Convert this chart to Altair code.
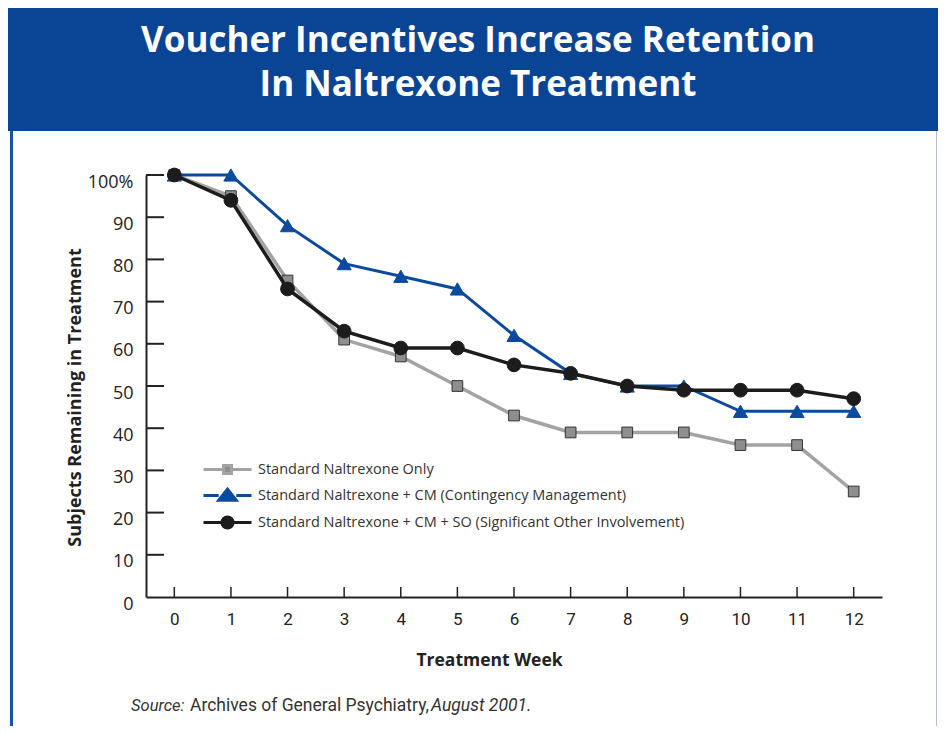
import altair as alt
import pandas as pd

# ---------------- data ----------------
weeks = list(range(13))
naltrexone_only = [100, 95, 75, 61, 57, 50, 43, 39, 39, 39, 36, 36, 25]
naltrexone_cm = [100, 100, 88, 79, 76, 73, 62, 53, 50, 50, 44, 44, 44]
naltrexone_cm_so = [100, 94, 73, 63, 59, 59, 55, 53, 50, 49, 49, 49, 47]
series_names = [
    "Standard Naltrexone Only",
    "Standard Naltrexone + CM (Contingency Management)",
    "Standard Naltrexone + CM + SO (Significant Other Involvement)",
]
y_ticks = [0, 10, 20, 30, 40, 50, 60, 70, 80, 90, 100]
x_ticks = weeks
title_lines = ["Voucher Incentives Increase Retention", "In Naltrexone Treatment"]
x_title = "Treatment Week"
y_title = "Subjects Remaining in Treatment"
source_parts = ["Source:", "Archives of General Psychiatry,", "August 2001."]

# ---------------- styles ----------------
W, H = 736, 422
BLUE = "#0a4595"
line_colors = ["#a3a3a3", "#0b4a9c", "#1c1c1c"]
line_widths = [3.5, 3, 3.5]
point_fill = ["#8e8e8e", "#0b4a9c", "#1c1c1c"]
point_stroke = ["#333333", "#0b4a9c", "#1c1c1c"]
point_shape = ["square", "triangle-up", "circle"]
point_size = [115, 200, 190]
legend_paths = [
    "M-3,0H-0.5M0.5,0H3M-0.5,-0.5H0.5V0.5H-0.5Z",
    "M-3,0H-1.1M1.1,0H3M0,-0.8L1.1,0.6L-1.1,0.6Z",
    "M-3,0H-0.7M0.7,0H3M0.7,0A0.7,0.7 0 1,1 -0.7,0A0.7,0.7 0 1,1 0.7,0Z",
]
NARROW = "Roboto, sans-serif"
SANS = "Open Sans, Lato, sans-serif"

rows = []
for name, vals in zip(series_names, [naltrexone_only, naltrexone_cm, naltrexone_cm_so]):
    for w, v in zip(weeks, vals):
        rows.append({"series": name, "week": w, "value": v})
df = pd.DataFrame(rows)

one = pd.DataFrame({"k": [0]})

x_axis = alt.Axis(
    values=x_ticks, title=x_title, grid=False, ticks=False,
    domainColor="#222222", domainWidth=2,
    labelFont=NARROW, labelFontSize=17, labelColor="#222222", labelPadding=14,
    titleFont=SANS, titleFontSize=17.5, titleFontWeight="bold", titleColor="#222222",
    titleX=343, titleY=63, titleAlign="center", titleBaseline="middle",
)
y_axis = alt.Axis(
    values=y_ticks, title=y_title, grid=False, ticks=False,
    labelExpr="datum.value == 100 ? '100%' : datum.label",
    domainColor="#222222", domainWidth=2,
    labelFont=SANS, labelFontSize=18, labelColor="#222222", labelPadding=13, labelOffset=7,
    titleFont=SANS, titleFontSize=18, titleFontWeight="bold", titleColor="#222222",
    titleX=-71, titleY=222, titleAngle=-90, titleAlign="center", titleBaseline="middle",
)
xs = alt.Scale(domain=[-0.5, 12.5], nice=False, zero=False)
ys = alt.Scale(domain=[0, 100], nice=False)

layers = []

# decorative frame
layers.append(alt.Chart(one).mark_rect(color=BLUE).encode(
    x=alt.value(-140), x2=alt.value(800), y=alt.value(-175), y2=alt.value(-44)))
layers.append(alt.Chart(one).mark_rect(color="#1553a5").encode(
    x=alt.value(-136), x2=alt.value(-133), y=alt.value(-44), y2=alt.value(570)))
layers.append(alt.Chart(one).mark_rect(color="#b4c0d0").encode(
    x=alt.value(790), x2=alt.value(791), y=alt.value(-44), y2=alt.value(570)))

# title
for i, t in enumerate(title_lines):
    layers.append(alt.Chart(one).mark_text(
        text=t, font="Open Sans", fontSize=35, fontWeight="bold", color="white",
        align="center", baseline="alphabetic").encode(
        x=alt.value(332), y=alt.value(-123 + 44 * i)))

# main lines and points, per series
for i, name in enumerate(series_names):
    sub = alt.Chart(df).transform_filter(alt.datum.series == name)
    enc_x = alt.X("week:Q", scale=xs, axis=x_axis)
    enc_y = alt.Y("value:Q", scale=ys, axis=y_axis)
    layers.append(sub.mark_line(color=line_colors[i], strokeWidth=line_widths[i]).encode(
        x=enc_x, y=enc_y))
    layers.append(sub.mark_point(
        filled=True, opacity=1, shape=point_shape[i], size=point_size[i],
        fill=point_fill[i], stroke=point_stroke[i], strokeWidth=1).encode(
        x=enc_x, y=enc_y))

# inward ticks
layers.append(alt.Chart(pd.DataFrame({"value": y_ticks[1:]})).mark_rule(
    color="#222222", strokeWidth=2).encode(
    y=alt.Y("value:Q", scale=ys, axis=y_axis), x=alt.value(0), x2=alt.value(18)))
layers.append(alt.Chart(pd.DataFrame({"week": x_ticks})).mark_rule(
    color="#222222", strokeWidth=1.5).encode(
    x=alt.X("week:Q", scale=xs, axis=x_axis), y=alt.value(H), y2=alt.value(H - 10)))

# legend-only layer
leg = alt.Legend(
    title=None, orient="none", legendX=72, legendY=285, padding=0,
    symbolSize=256, symbolStrokeWidth=3, symbolOpacity=1,
    labelFont=SANS, labelFontSize=14.5, labelColor="#333333", labelOffset=21,
    rowPadding=3, labelLimit=600,
)
layers.append(alt.Chart(df).transform_filter("false").mark_point(
    filled=True, opacity=1, size=256, strokeWidth=3).encode(
    x=alt.X("week:Q", scale=xs, axis=x_axis),
    y=alt.Y("value:Q", scale=ys, axis=y_axis),
    fill=alt.Fill("series:N", scale=alt.Scale(domain=series_names, range=point_fill), legend=leg),
    stroke=alt.Stroke("series:N", scale=alt.Scale(domain=series_names, range=line_colors), legend=leg),
    shape=alt.Shape("series:N", scale=alt.Scale(domain=series_names, range=legend_paths), legend=leg),
))

# source line
src_x = [-15, 44, 285]
src_size = [16.5, 17.5, 17.5]
src_style = ["italic", "normal", "italic"]
for t, xx, fs, st in zip(source_parts, src_x, src_size, src_style):
    layers.append(alt.Chart(one).mark_text(
        text=t, font=NARROW, fontSize=fs, fontStyle=st, color="#333333",
        align="left", baseline="alphabetic").encode(
        x=alt.value(xx), y=alt.value(536)))

chart = alt.layer(*layers).properties(
    width=W, height=H,
    autosize=alt.AutoSizeParams(type="none"),
    padding={"left": 138, "top": 167, "right": 56, "bottom": 129},
    background="white",
).configure_view(stroke=None)

chart.save("out.html", embed_options={"renderer": "svg", "actions": False})
